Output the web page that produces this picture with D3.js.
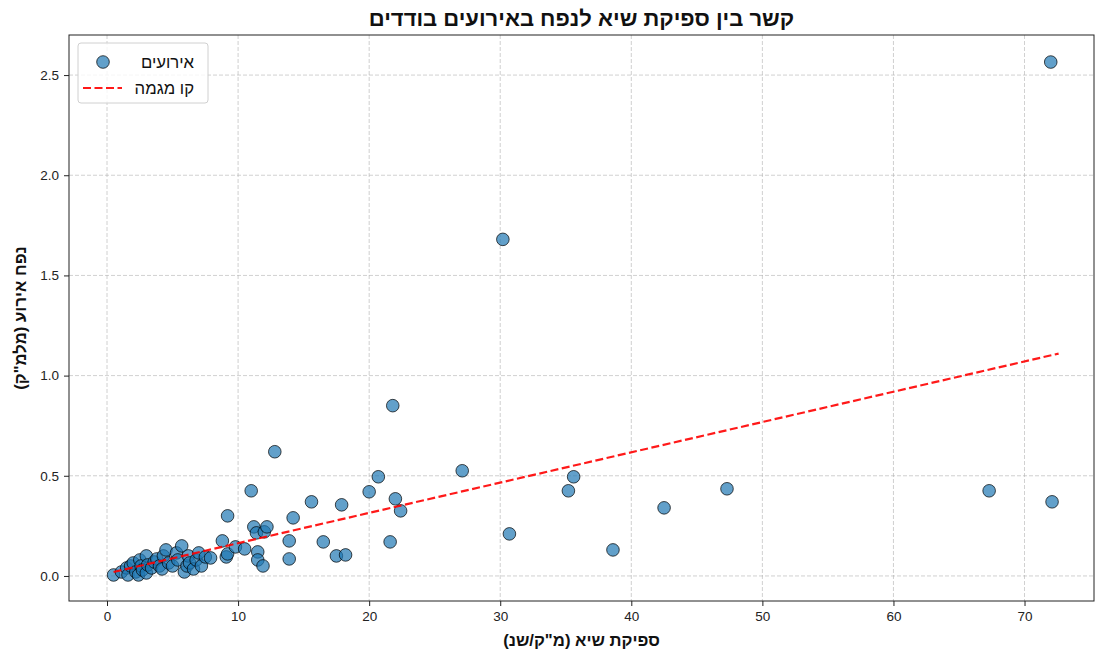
<!DOCTYPE html>
<html>
<head>
<meta charset="utf-8">
<script src="https://cdn.jsdelivr.net/npm/d3@7"></script>
<style>
  body { margin: 0; background: #fff; }
  text { font-family: "Liberation Sans", Arial, sans-serif; }
</style>
</head>
<body>
<div id="chart"></div>
<script>
// peak discharge (x) vs. event volume (y)
const peakFlow = [
  0.5, 1.1, 1.5, 1.6, 1.8, 2.0, 2.2, 2.4, 2.5, 2.6, 2.7, 3.0, 3.0, 3.1, 3.4, 3.6,
  3.8, 4.0, 4.2, 4.3, 4.5, 4.7, 5.0, 5.3, 5.4, 5.7, 5.9, 6.1, 6.2, 6.3, 6.6, 6.8,
  7.0, 7.2, 7.5, 7.9,
  8.8, 9.1, 9.2, 9.2, 9.8, 10.5, 11.0, 11.2, 11.4, 11.5, 11.5, 11.9, 12.0, 12.2,
  12.8, 13.9, 13.9, 14.2, 15.6, 16.5, 17.5, 17.9, 18.2, 20.0, 20.7, 21.6, 21.8,
  22.0, 22.4, 27.1, 30.2, 30.7, 35.2, 35.6, 38.6, 42.5, 47.3, 67.3, 72.0, 72.1
];
const eventVolume = [
  0.005, 0.02, 0.04, 0.005, 0.05, 0.065, 0.02, 0.005, 0.08, 0.05, 0.03, 0.015, 0.10, 0.055, 0.04, 0.07,
  0.085, 0.05, 0.035, 0.10, 0.13, 0.065, 0.05, 0.115, 0.08, 0.15, 0.02, 0.05, 0.10, 0.065, 0.035, 0.08,
  0.115, 0.05, 0.095, 0.09,
  0.175, 0.095, 0.11, 0.30, 0.145, 0.135, 0.425, 0.245, 0.215, 0.12, 0.08, 0.05, 0.22, 0.245,
  0.62, 0.175, 0.085, 0.29, 0.37, 0.17, 0.10, 0.355, 0.105, 0.42, 0.495, 0.17, 0.85,
  0.385, 0.325, 0.525, 1.68, 0.21, 0.425, 0.495, 0.13, 0.34, 0.435, 0.425, 2.565, 0.37
];
const trendX = [0.5, 72.6];
const trendY = [0.02, 1.11];
const xTicks = [0, 10, 20, 30, 40, 50, 60, 70];
const yTicks = [0.0, 0.5, 1.0, 1.5, 2.0, 2.5];

const title = "קשר בין ספיקת שיא לנפח באירועים בודדים";
const xLabel = "ספיקת שיא (מ\"ק/שנ)";
const yLabel = "נפח אירוע (מלמ\"ק)";
const legendLabels = ["אירועים", "קו מגמה"];

const W = 1096, H = 654;
const margin = { top: 35, right: 2, bottom: 53, left: 69 };
const width = W - margin.left - margin.right;
const height = H - margin.top - margin.bottom;

const svg = d3.select("#chart").append("svg")
  .attr("width", W).attr("height", H);

const g = svg.append("g")
  .attr("transform", "translate(" + margin.left + "," + margin.top + ")");

const x = d3.scaleLinear().domain([-2.9, 75.3]).range([0, width]);
const y = d3.scaleLinear().domain([-0.125, 2.70]).range([height, 0]);

// grid
g.append("g").selectAll("line").data(xTicks).enter().append("line")
  .attr("x1", d => x(d)).attr("x2", d => x(d))
  .attr("y1", 0).attr("y2", height)
  .attr("stroke", "#b0b0b0").attr("stroke-opacity", 0.6)
  .attr("stroke-dasharray", "4,2");
g.append("g").selectAll("line").data(yTicks).enter().append("line")
  .attr("y1", d => y(d)).attr("y2", d => y(d))
  .attr("x1", 0).attr("x2", width)
  .attr("stroke", "#b0b0b0").attr("stroke-opacity", 0.6)
  .attr("stroke-dasharray", "4,2");

// axes
const xAxis = g.append("g")
  .attr("transform", "translate(0," + height + ")")
  .call(d3.axisBottom(x).tickValues(xTicks).tickFormat(d3.format("d")).tickSize(5).tickPadding(5));
const yAxis = g.append("g")
  .call(d3.axisLeft(y).tickValues(yTicks).tickFormat(d3.format(".1f")).tickSize(5).tickPadding(5));
[xAxis, yAxis].forEach(a => {
  a.select(".domain").remove();
  a.selectAll("text").attr("font-size", 13.5).attr("fill", "#222")
    .style("font-family", "'Liberation Sans', Arial, sans-serif");
  a.selectAll("line").attr("stroke", "#222");
});

// points
const points = peakFlow.map((v, i) => ({ x: v, y: eventVolume[i] }));
g.append("g").selectAll("circle").data(points).enter().append("circle")
  .attr("cx", d => x(d.x)).attr("cy", d => y(d.y))
  .attr("r", 6.3)
  .attr("fill", "#1f77b4").attr("fill-opacity", 0.7)
  .attr("stroke", "#000").attr("stroke-opacity", 0.7).attr("stroke-width", 1);

// trend line
g.append("path")
  .datum(trendX.map((v, i) => [v, trendY[i]]))
  .attr("d", d3.line().x(d => x(d[0])).y(d => y(d[1])))
  .attr("fill", "none").attr("stroke", "red").attr("stroke-opacity", 0.9)
  .attr("stroke-width", 2.2).attr("stroke-dasharray", "8,3.5");

// frame
g.append("rect").attr("width", width).attr("height", height)
  .attr("fill", "none").attr("stroke", "#222").attr("stroke-width", 1);

// legend
const lg = g.append("g").attr("transform", "translate(9,8)");
lg.append("rect").attr("width", 130).attr("height", 60).attr("rx", 3)
  .attr("fill", "#fff").attr("fill-opacity", 0.8)
  .attr("stroke", "#d0d0d0");
lg.append("circle").attr("cx", 25).attr("cy", 19).attr("r", 6.3)
  .attr("fill", "#1f77b4").attr("fill-opacity", 0.7)
  .attr("stroke", "#000").attr("stroke-opacity", 0.7);
lg.append("line").attr("x1", 5).attr("x2", 44).attr("y1", 45).attr("y2", 45)
  .attr("stroke", "red").attr("stroke-opacity", 0.9)
  .attr("stroke-width", 2.2).attr("stroke-dasharray", "8,3.5");
legendLabels.forEach((t, i) => {
  lg.append("text").attr("x", 116).attr("y", 19 + i * 26).attr("dy", "0.35em")
    .attr("text-anchor", "end").attr("font-size", 16.7).attr("fill", "#111")
    .text(t);
});

// title and labels
svg.append("text").attr("x", margin.left + width / 2).attr("y", 26)
  .attr("text-anchor", "middle").attr("font-size", 22).attr("font-weight", "bold")
  .attr("fill", "#111").text(title);
svg.append("text").attr("x", margin.left + width / 2).attr("y", 646)
  .attr("text-anchor", "middle").attr("font-size", 16.7).attr("font-weight", "bold")
  .attr("fill", "#111").text(xLabel);
svg.append("text")
  .attr("transform", "translate(26," + (margin.top + height / 2) + ") rotate(-90)")
  .attr("text-anchor", "middle").attr("font-size", 16.7).attr("font-weight", "bold")
  .attr("fill", "#111").text(yLabel);
</script>
</body>
</html>
